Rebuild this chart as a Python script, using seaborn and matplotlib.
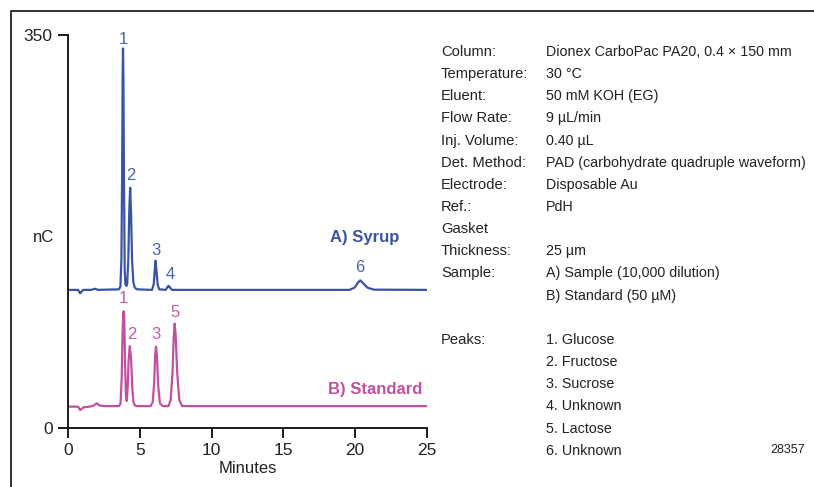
import matplotlib
matplotlib.use("Agg")
import matplotlib.pyplot as plt
import seaborn as sns
from matplotlib import font_manager
from matplotlib.lines import Line2D

sns.set_style("white")
names = {f.name for f in font_manager.fontManager.ttflist}
fam = [f for f in ["Liberation Sans Narrow", "Liberation Sans", "DejaVu Sans"] if f in names]
plt.rcParams["font.family"] = fam

# ---- data ----
syrup_min = [0, 0.7, 0.85, 0.95, 1.05, 1.6, 1.9, 2.1, 3.55, 3.65, 3.72, 3.77, 3.81, 3.83, 3.86,
             3.90, 3.95, 4.0, 4.06, 4.12, 4.2, 4.27, 4.33, 4.39, 4.46, 4.55, 4.65, 4.8, 5.85,
             5.97, 6.04, 6.1, 6.16, 6.24, 6.35, 6.8, 6.95, 7.02, 7.1, 7.25, 19.6, 19.95, 20.2,
             20.35, 20.55, 20.85, 21.3, 25]
syrup_nc = [123, 123, 120, 121.5, 123, 123, 124, 123, 123.5, 126, 150, 230, 320, 338, 310,
            220, 140, 128, 126.5, 128, 150, 195, 214, 192, 150, 130, 125, 123.5, 123,
            128, 140, 149, 140, 128, 123.5, 123, 126, 126.5, 125, 123, 123, 125, 129.5,
            131.5, 129, 125, 123.2, 123]

std_min = [0, 0.7, 0.85, 0.95, 1.1, 1.5, 1.8, 2.0, 2.2, 2.5, 3.55, 3.66, 3.74, 3.80, 3.85,
           3.88, 3.92, 3.97, 4.03, 4.09, 4.15, 4.22, 4.30, 4.39, 4.48, 4.56, 4.66, 4.8, 5.75,
           5.9, 6.0, 6.07, 6.13, 6.2, 6.28, 6.4, 6.6, 7.0, 7.15, 7.28, 7.36, 7.43, 7.5,
           7.6, 7.75, 7.95, 25]
std_nc = [19, 19, 16, 17, 18.5, 19, 20, 22, 20, 19.5, 19.5, 22, 45, 85, 102,
          104, 95, 60, 30, 24, 35, 60, 73, 62, 35, 23, 20, 19.5, 19.5,
          23, 40, 65, 72.5, 63, 38, 22, 19.5, 19.5, 25, 50, 80, 93, 82,
          50, 25, 19.5, 19.5]

syrup_peaks = ["1", "2", "3", "4", "6"]
syrup_peak_x = [3.83, 4.39, 6.13, 7.10, 20.33]
syrup_peak_y = [346, 225, 158.5, 136.5, 142.5]

std_peaks = ["1", "2", "3", "5"]
std_peak_x = [3.83, 4.46, 6.13, 7.45]
std_peak_y = [115, 83, 83, 102.5]

x_ticks = [0, 5, 10, 15, 20, 25]
y_ticks = [0, 350]

info_labels = ["Column:", "Temperature:", "Eluent:", "Flow Rate:", "Inj. Volume:",
               "Det. Method:", "Electrode:", "Ref.:", "Gasket", "Thickness:", "Sample:", "",
               "", "Peaks:", "", "", "", "", ""]
info_values = ["Dionex CarboPac PA20, 0.4 \u00d7 150 mm", "30 \u00b0C", "50 mM KOH (EG)",
               "9 \u00b5L/min", "0.40 \u00b5L", "PAD (carbohydrate quadruple waveform)",
               "Disposable Au", "PdH", "", "25 \u00b5m", "A) Sample (10,000 dilution)",
               "B) Standard (50 \u00b5M)", "", "1. Glucose", "2. Fructose", "3. Sucrose",
               "4. Unknown", "5. Lactose", "6. Unknown"]

blue = "#3a54a4"
pink = "#c050a0"

W, H = 814, 487
fig = plt.figure(figsize=(W / 100, H / 100), dpi=100)
ax = fig.add_axes([68 / W, 1 - 428 / H, (427 - 68) / W, (428 - 35) / H])

sns.lineplot(x=syrup_min, y=syrup_nc, color=blue, linewidth=1.6, ax=ax, errorbar=None, sort=False)
sns.lineplot(x=std_min, y=std_nc, color=pink, linewidth=1.6, ax=ax, errorbar=None, sort=False)

ax.set_xlim(0, 25)
ax.set_ylim(0, 350)
ax.set_xticks(x_ticks)
ax.set_yticks(y_ticks)
for s in ["top", "right"]:
    ax.spines[s].set_visible(False)
for s in ["left", "bottom"]:
    ax.spines[s].set_color("#1a1a1a")
    ax.spines[s].set_linewidth(1.4)
ax.tick_params(axis="both", direction="out", length=7, width=1.4, color="#1a1a1a",
               labelsize=12.5, labelcolor="#222222", pad=4, left=True, bottom=True)
ax.set_xlabel("Minutes", fontsize=12, color="#222222", labelpad=2)
ax.set_ylabel("")
ax.set_facecolor("none")

for t, x, y in zip(syrup_peaks, syrup_peak_x, syrup_peak_y):
    ax.text(x, y, t, color="#4a62b0", fontsize=12, ha="center", va="center")
for t, x, y in zip(std_peaks, std_peak_x, std_peak_y):
    ax.text(x, y, t, color="#c858a8", fontsize=12, ha="center", va="center")

ax.text(23.05, 170, "A) Syrup", color=blue, fontsize=12, fontweight="bold", ha="right", va="center")
ax.text(24.65, 34, "B) Standard", color=pink, fontsize=12, fontweight="bold", ha="right", va="center")

fig.text(33 / W, 1 - 238 / H, "nC", fontsize=12, color="#222222", ha="left", va="center")

y0 = 52
dy = 22.15
for i, (lab, val) in enumerate(zip(info_labels, info_values)):
    yy = 1 - (y0 + i * dy) / H
    if lab:
        fig.text(441 / W, yy, lab, fontsize=10.6, color="#222222", ha="left", va="center")
    if val:
        fig.text(546 / W, yy, val, fontsize=10.3, color="#222222", ha="left", va="center")
fig.text(770 / W, 1 - 450 / H, "28357", fontsize=9, color="#222222", ha="left", va="center")

# figure frame (top and left)
fig.add_artist(Line2D([11 / W, 11 / W, 1.0], [0, 1 - 11 / H, 1 - 11 / H],
                      transform=fig.transFigure, color="#222222", linewidth=1.3))

fig.savefig("out.png", dpi=100)
